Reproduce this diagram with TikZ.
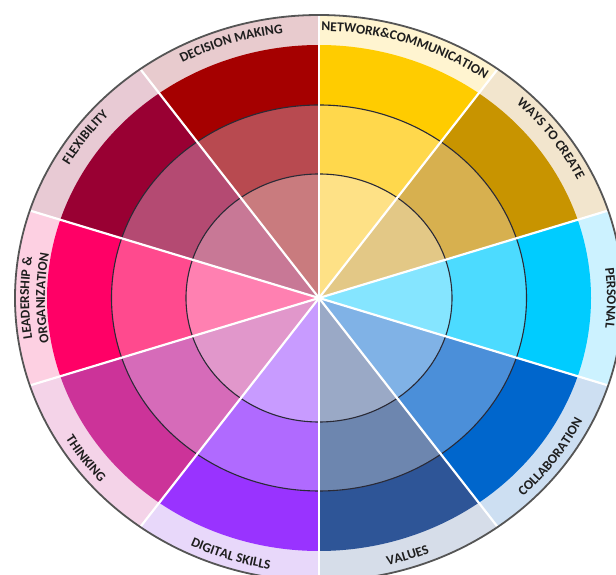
\documentclass[tikz,border=0pt]{standalone}
\usepackage{fontspec}
\setsansfont{Carlito}
\usetikzlibrary{decorations.text}
% label tints / outer / middle / inner colours
\definecolor{netL}{HTML}{FFF4D0}\definecolor{netO}{HTML}{FFCC00}\definecolor{netM}{HTML}{FFD84C}\definecolor{netI}{HTML}{FEE186}
\definecolor{wayL}{HTML}{F2E5CD}\definecolor{wayO}{HTML}{C89400}\definecolor{wayM}{HTML}{D7B04F}\definecolor{wayI}{HTML}{E3C886}
\definecolor{perL}{HTML}{CCF2FF}\definecolor{perO}{HTML}{00CCFF}\definecolor{perM}{HTML}{4CDBFF}\definecolor{perI}{HTML}{85E5FF}
\definecolor{colL}{HTML}{CDDFF2}\definecolor{colO}{HTML}{0066CC}\definecolor{colM}{HTML}{4B8FD9}\definecolor{colI}{HTML}{80B2E6}
\definecolor{valL}{HTML}{D6DDE9}\definecolor{valO}{HTML}{2E5597}\definecolor{valM}{HTML}{6D86AF}\definecolor{valI}{HTML}{9AA9C6}
\definecolor{digL}{HTML}{E8D8FA}\definecolor{digO}{HTML}{9933FF}\definecolor{digM}{HTML}{B06AFF}\definecolor{digI}{HTML}{C89BFF}
\definecolor{thiL}{HTML}{F4D3E8}\definecolor{thiO}{HTML}{CC3399}\definecolor{thiM}{HTML}{D66BB9}\definecolor{thiI}{HTML}{E197CB}
\definecolor{leaL}{HTML}{FDD0E2}\definecolor{leaO}{HTML}{FF0066}\definecolor{leaM}{HTML}{FF4A8E}\definecolor{leaI}{HTML}{FF80B1}
\definecolor{fleL}{HTML}{E8CAD4}\definecolor{fleO}{HTML}{990033}\definecolor{fleM}{HTML}{B44A72}\definecolor{fleI}{HTML}{C87896}
\definecolor{decL}{HTML}{E8CBCE}\definecolor{decO}{HTML}{A50000}\definecolor{decM}{HTML}{B84A50}\definecolor{decI}{HTML}{C97B7E}
\definecolor{textdark}{HTML}{1E1E1E}
\definecolor{ringcol}{HTML}{2A2A36}
\definecolor{rimcol}{HTML}{555555}
\newcommand\lblfont{\sffamily\bfseries\fontsize{13.5}{13.5}\selectfont\color{textdark}}
\tikzset{
  seplines/.style={white, line width=2.2pt},
  ringline/.style={ringcol, line width=1.1pt},
  rimline/.style={rimcol, line width=1.8pt},
}
\begin{document}
\begin{tikzpicture}[x=1pt,y=1pt]
\useasboundingbox (0,0) rectangle (616,575);
\begin{scope}[shift={(319,277)}]
\coordinate (c) at (0,0);
% sectors: start angle / label tint / outer / middle / inner
\foreach \a/\cl/\co/\cm/\ci in {54/netL/netO/netM/netI, 18/wayL/wayO/wayM/wayI, -18/perL/perO/perM/perI,
  -54/colL/colO/colM/colI, -90/valL/valO/valM/valI, -126/digL/digO/digM/digI, -162/thiL/thiO/thiM/thiI,
  162/leaL/leaO/leaM/leaI, 126/fleL/fleO/fleM/fleI, 90/decL/decO/decM/decI}{
  \fill[\cl] (c) -- (\a:304 and 283) arc[start angle=\a, delta angle=36, x radius=304, y radius=283] -- cycle;
  \fill[\co] (c) -- (\a:272 and 253) arc[start angle=\a, delta angle=36, x radius=272, y radius=253] -- cycle;
  \fill[\cm] (c) -- (\a:207.5 and 193) arc[start angle=\a, delta angle=36, x radius=207.5, y radius=193] -- cycle;
  \fill[\ci] (c) -- (\a:133 and 124) arc[start angle=\a, delta angle=36, x radius=133, y radius=124] -- cycle;
}
\draw[ringline] (c) ellipse[x radius=207.5, y radius=193];
\draw[ringline] (c) ellipse[x radius=133, y radius=124];
\foreach \a in {90,54,18,-18,-54,-90,-126,-162,162,126}{
  \draw[seplines] (c) -- (\a:304 and 283);
}
\draw[rimline] (c) ellipse[x radius=304, y radius=283];
% labels, upper style (read clockwise)
\foreach \m/\txt in {72/{NETWORK{\&}COMMUNICATION}, 36/{WAYS TO CREATE}, 0/{PERSONAL}, 144/{FLEXIBILITY}, 108/{DECISION MAKING}}{
  \path[decorate, decoration={text along path, text align=center, text/.expanded={|\noexpand\lblfont|\txt}}]
    (\m+30:288 and 267) arc[start angle=\m+30, end angle=\m-30, x radius=288, y radius=267];
}
\path[decorate, decoration={text along path, text align=center, text={|\lblfont|LEADERSHIP {\&}}}]
  (210:290 and 270) arc[start angle=210, end angle=150, x radius=290, y radius=270];
\path[decorate, decoration={text along path, text align=center, text={|\lblfont|ORGANIZATION}}]
  (210:274 and 255) arc[start angle=210, end angle=150, x radius=274, y radius=255];
% labels, lower style (read counter-clockwise)
\foreach \m/\txt in {-36/{COLLABORATION}, -72/{VALUES}, -108/{DIGITAL SKILLS}, -144/{THINKING}}{
  \path[decorate, decoration={text along path, text align=center, text/.expanded={|\noexpand\lblfont|\txt}}]
    (\m-30:295 and 275) arc[start angle=\m-30, end angle=\m+30, x radius=295, y radius=275];
}
\end{scope}
\end{tikzpicture}
\end{document}
